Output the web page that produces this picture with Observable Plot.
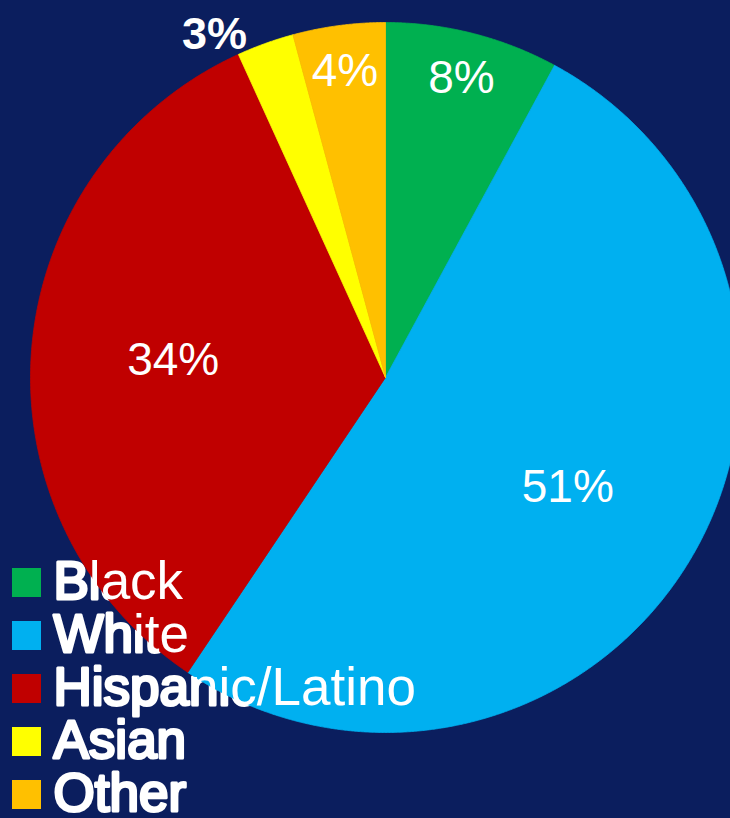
<!DOCTYPE html>
<html>
<head>
<meta charset="utf-8">
<script src="https://cdn.jsdelivr.net/npm/d3@7"></script>
<script src="https://cdn.jsdelivr.net/npm/@observablehq/plot@0.6"></script>
<style>
  html, body { margin: 0; padding: 0; background: #0b1e5e; overflow: hidden; }
  #chart { width: 730px; height: 818px; }
</style>
</head>
<body>
<div id="chart"></div>
<script>
// ---- data ----
const categories = ["Black", "White", "Hispanic/Latino", "Asian", "Other"];
const shares = [7.9, 51.5, 33.8, 2.6, 4.2];
const labels = ["8%", "51%", "34%", "3%", "4%"];
const colors = ["#00b050", "#00b0f0", "#c00000", "#ffff00", "#ffc000"];

// ---- layout ----
const W = 730, H = 818;
const CX = 385, CY = 377, R = 355;
const FONT = "'Liberation Sans', Arial, Helvetica, sans-serif";

const rows = categories.map((c, i) => ({cat: c, share: shares[i], label: labels[i]}));
const arcs = d3.pie().sort(null).value(d => d.share)(rows);

// polygon points for each slice (unit circle, y up, angle clockwise from 12 o'clock)
const polyPoints = [];
for (const a of arcs) {
  const cat = a.data.cat;
  polyPoints.push({cat, x: 0, y: 0});
  const n = Math.max(2, Math.ceil((a.endAngle - a.startAngle) / 0.004));
  for (let k = 0; k <= n; k++) {
    const t = a.startAngle + (a.endAngle - a.startAngle) * k / n;
    polyPoints.push({cat, x: Math.sin(t), y: Math.cos(t)});
  }
  polyPoints.push({cat, x: 0, y: 0});
}

// label positions derived from slice angles
const inside = [], outside = [];
for (const a of arcs) {
  const s = a.data.share;
  if (s < 3) {
    const t = a.startAngle - 0.035, r = 1.08;
    outside.push({label: a.data.label, x: r * Math.sin(t), y: r * Math.cos(t)});
  } else {
    const t = (a.startAngle + a.endAngle) / 2, r = s >= 20 ? 0.6 : 0.87;
    inside.push({label: a.data.label, x: r * Math.sin(t), y: r * Math.cos(t)});
  }
}

const ROW = 53, LAST = 24;
const legendDy = i => -LAST - (categories.length - 1 - i) * ROW;

const legendTextMarks = (under) => categories.map((c, i) =>
  Plot.text([c], {
    frameAnchor: "bottom-left", dx: 53, dy: legendDy(i),
    text: d => d, textAnchor: "start", lineAnchor: "middle",
    fontSize: 53, fill: "white",
    ...(under ? {stroke: "white", strokeWidth: 3} : {})
  }));

const plot = Plot.plot({
  width: W, height: H,
  margin: 0,
  x: {domain: [-1, 1], range: [CX - R, CX + R], axis: null},
  y: {domain: [-1, 1], range: [CY + R, CY - R], axis: null},
  color: {domain: categories, range: colors},
  style: {background: "transparent", fontFamily: FONT, overflow: "hidden"},
  marks: [
    ...legendTextMarks(true),
    Plot.line(polyPoints, {x: "x", y: "y", z: "cat", fill: "cat", stroke: "cat", strokeWidth: 0.8, curve: "linear"}),
    Plot.text(inside, {x: "x", y: "y", text: "label", fill: "white", fontSize: 46, lineAnchor: "middle"}),
    Plot.text(outside, {x: "x", y: "y", text: "label", fill: "white", fontSize: 45, fontWeight: "bold", lineAnchor: "middle"}),
    ...legendTextMarks(false),
    ...categories.map((c, i) => Plot.dot(categories, {
      filter: (d, j) => j === i,
      frameAnchor: "bottom-left", dx: 26, dy: legendDy(i),
      symbol: "square", r: Math.sqrt(29 * 29 / Math.PI), fill: d => d, stroke: null
    }))
  ]
});
document.getElementById("chart").appendChild(plot);
</script>
</body>
</html>
